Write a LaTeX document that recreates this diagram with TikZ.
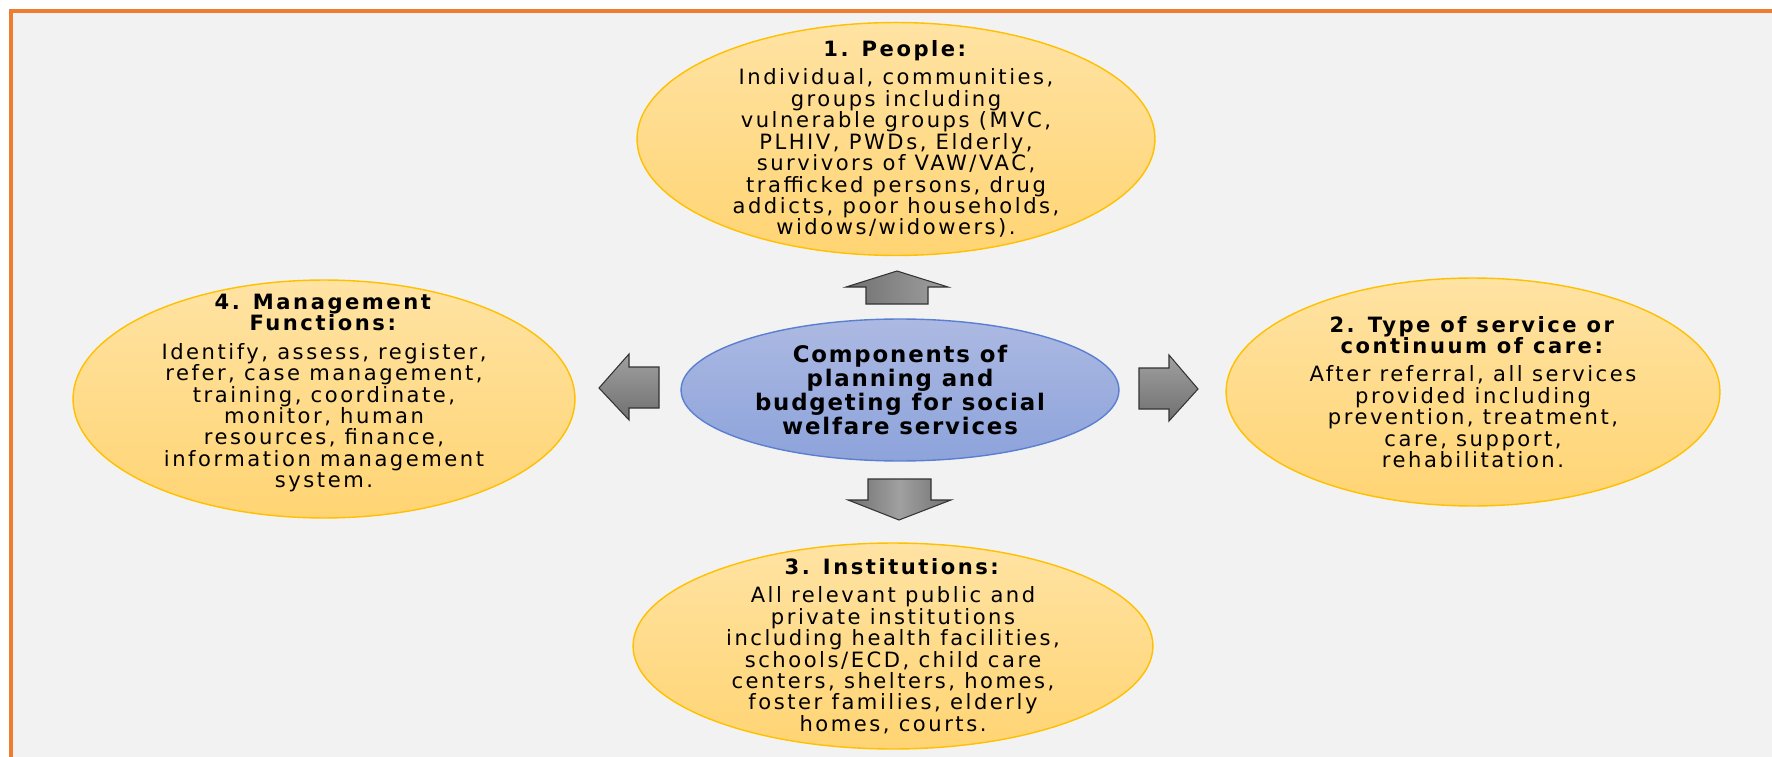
\documentclass[tikz,border=0pt]{standalone}
\usepackage{fontspec}
\usepackage{tikz}
\usetikzlibrary{shapes.geometric}
\newfontfamily\bodyfont[LetterSpace=12]{DejaVu Sans}
\newfontfamily\hubfont[LetterSpace=8]{DejaVu Sans}
\definecolor{frameOrange}{RGB}{237,125,49}
\definecolor{paneGray}{RGB}{242,242,242}
\definecolor{goldLine}{RGB}{255,192,0}
\definecolor{goldTop}{RGB}{255,227,163}
\definecolor{goldBot}{RGB}{255,212,115}
\definecolor{blueLine}{RGB}{91,127,208}
\definecolor{blueTop}{RGB}{172,185,226}
\definecolor{blueBot}{RGB}{141,163,219}
\definecolor{arrLight}{RGB}{160,160,160}
\definecolor{arrDark}{RGB}{112,112,112}

\begin{document}
\begin{tikzpicture}[x=0.02cm, y=-0.02cm,
	part/.style={ellipse, draw=goldLine, line width=0.8pt, top color=goldTop, bottom color=goldBot, inner sep=0},
	parttext/.style={align=center, inner sep=0, font=\bodyfont\fontsize{12}{12.2}\selectfont},
	hub/.style={ellipse, draw=blueLine, line width=0.8pt, top color=blueTop, bottom color=blueBot, inner sep=0},
	hubtext/.style={align=center, inner sep=0, font=\hubfont\bfseries\fontsize{13}{13.6}\selectfont},
	blockarrow/.style={draw=black!80, line width=0.6pt, line join=miter}
]
\useasboundingbox (0,0) rectangle (1772,757);
\fill[white] (0,0) rectangle (1772,757);
\fill[paneGray] (11,11) rectangle (1772,757);
\draw[frameOrange, line width=2pt, line join=miter] (11,757) -- (11,11) -- (1772,11);

% centre
\node[hub, minimum width=8.76cm, minimum height=2.84cm] (hub) at (900,390) {};
\node[hubtext] (hubLbl) at (hub) {Components of\\ planning and\\ budgeting for social\\ welfare services};

% the four parts
\node[part, minimum width=10.36cm, minimum height=4.66cm] (people) at (896,139) {};
\node[parttext] (peopleLbl) at (people) {\textbf{1. People:}\\[4pt]
	Individual, communities,\\ groups including\\ vulnerable groups (MVC,\\ PLHIV, PWDs, Elderly,\\
	survivors of VAW/VAC,\\ trafficked persons, drug\\ addicts, poor households,\\ widows/widowers).};

\node[part, minimum width=9.88cm, minimum height=4.56cm] (service) at (1473,392) {};
\node[parttext] (serviceLbl) at (service) {\textbf{2. Type of service or}\\ \textbf{continuum of care:}\\[4pt]
	After referral, all services\\ provided including\\ prevention, treatment,\\ care, support,\\ rehabilitation.};

\node[part, minimum width=10.4cm, minimum height=4.12cm] (inst) at (893,646) {};
\node[parttext] (instLbl) at (inst) {\textbf{3. Institutions:}\\[4pt]
	All relevant public and\\ private institutions\\ including health facilities,\\ schools/ECD, child care\\
	centers, shelters, homes,\\ foster families, elderly\\ homes, courts.};

\node[part, minimum width=10.04cm, minimum height=4.76cm] (mgmt) at (324,399) {};
\node[parttext] (mgmtLbl) at ([yshift=0.12cm]mgmt.center) {\textbf{4. Management}\\ \textbf{Functions:}\\[4pt]
	Identify, assess, register,\\ refer, case management,\\ training, coordinate,\\ monitor, human\\
	resources, finance,\\ information management\\ system.};

% block arrows
\coordinate (upTip) at (897,271);
\coordinate (downTip) at (899,520);
\coordinate (leftTip) at (599,388);
\coordinate (rightTip) at (1198,389);
\draw[blockarrow, left color=arrDark, right color=arrLight] (upTip) -- ++(51,16) -- ++(-20,0) -- ++(0,17)
	-- ++(-62,0) -- ++(0,-17) -- ++(-20,0) -- cycle;
\draw[blockarrow, left color=arrDark, right color=arrDark, middle color=arrLight] (downTip) -- ++(52,-20) -- ++(-20,0)
	-- ++(0,-21) -- ++(-63,0) -- ++(0,21) -- ++(-20,0) -- cycle;
\draw[blockarrow, top color=arrLight, bottom color=arrDark] (leftTip) -- ++(30,-34) -- ++(0,13) -- ++(30,0)
	-- ++(0,41) -- ++(-30,0) -- ++(0,12) -- cycle;
\draw[blockarrow, top color=arrLight, bottom color=arrDark] (rightTip) -- ++(-29,-34) -- ++(0,13) -- ++(-30,0)
	-- ++(0,41) -- ++(30,0) -- ++(0,12) -- cycle;
\end{tikzpicture}
\end{document}
